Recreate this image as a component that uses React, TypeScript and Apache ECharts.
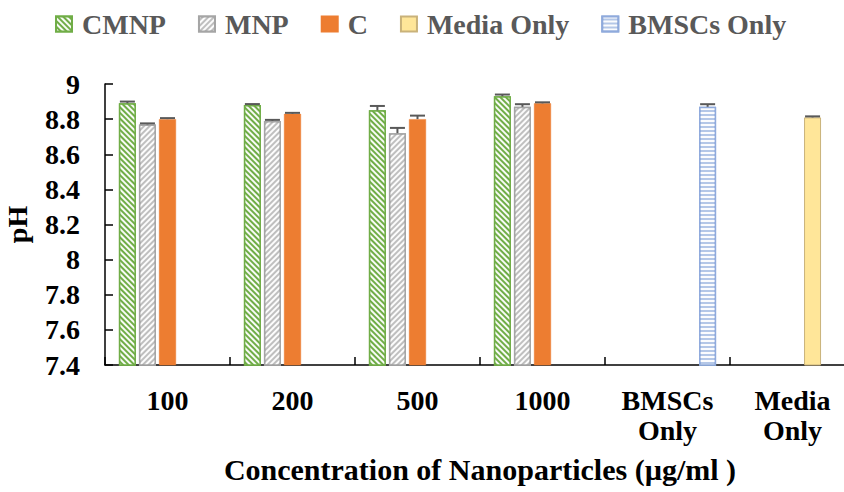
import React, { useEffect, useRef } from "react";
import * as echarts from "echarts";

const categories = ["100", "200", "500", "1000", "BMSCs\nOnly", "Media\nOnly"];
const seriesNames = ["CMNP", "MNP", "C", "Media Only", "BMSCs Only"];
const cmnp = [8.89, 8.88, 8.85, 8.93, null, null];
const mnp = [8.77, 8.79, 8.72, 8.87, null, null];
const cOnly = [8.8, 8.83, 8.8, 8.89, null, null];
const mediaOnly = [null, null, null, null, null, 8.81];
const bmscsOnly = [null, null, null, null, 8.87, null];
const cmnpErr = [0.01, 0.005, 0.025, 0.01, null, null];
const mnpErr = [0.005, 0.005, 0.03, 0.015, null, null];
const cErr = [0.005, 0.005, 0.02, 0.005, null, null];
const mediaErr = [null, null, null, null, null, 0.004];
const bmscsErr = [null, null, null, null, 0.015, null];
const yTicks = { min: 7.4, max: 9, step: 0.2 };

const FONT = "'Liberation Serif', 'Times New Roman', serif";
const BAR_W = 17;
const GAP_RATIO = 0.18;

export default function App() {
  const ref = useRef<HTMLDivElement>(null);
  useEffect(() => {
    document.body.style.margin = "0";
    if (!ref.current) return;
    const chart = echarts.init(ref.current, null, { renderer: "svg" });
    const values = [cmnp, mnp, cOnly, mediaOnly, bmscsOnly];
    const errs = [cmnpErr, mnpErr, cErr, mediaErr, bmscsErr];
    const styles: any[] = [
      {
        color: "#70AD47",
        borderColor: "#70AD47",
        borderWidth: 1.5,
        decal: { symbol: "rect", symbolSize: 1, color: "rgba(255,255,255,0.95)", dashArrayX: [1, 0], dashArrayY: [2, 2], rotation: Math.PI / 4 },
      },
      {
        color: "#BFBFBF",
        borderColor: "#A5A5A5",
        borderWidth: 1.5,
        decal: { symbol: "rect", symbolSize: 1, color: "rgba(255,255,255,0.95)", dashArrayX: [1, 0], dashArrayY: [2, 2], rotation: -Math.PI / 4 },
      },
      { color: "#ED7D31", borderColor: "#ED7D31", borderWidth: 0.5 },
      { color: "#FFE699", borderColor: "#C9B27A", borderWidth: 1 },
      {
        color: "#B4C7E7",
        borderColor: "#8FAADC",
        borderWidth: 1.5,
        decal: { symbol: "rect", symbolSize: 1, color: "rgba(255,255,255,0.95)", dashArrayX: [1, 0], dashArrayY: [2, 2], rotation: 0 },
      },
    ];
    const barSeries = seriesNames.map((name, i) => ({
      name,
      type: "bar",
      data: values[i],
      barWidth: BAR_W,
      barGap: GAP_RATIO * 100 + "%",
      itemStyle: styles[i],
      z: 2,
    }));
    const errData: any[] = [];
    errs.forEach((arr, s) => {
      arr.forEach((e, c) => {
        const v = values[s][c];
        if (e != null && v != null) errData.push([c, v, e, s]);
      });
    });
    const errSeries = {
      type: "custom",
      z: 5,
      silent: true,
      data: errData,
      renderItem: (params: any, api: any) => {
        const c = api.value(0);
        const v = api.value(1);
        const e = api.value(2);
        const s = api.value(3);
        const top = api.coord([c, v]);
        const cap = api.coord([c, v + e]);
        const gap = BAR_W * GAP_RATIO;
        const groupW = 5 * BAR_W + 4 * gap;
        const x = top[0] - groupW / 2 + s * (BAR_W + gap) + BAR_W / 2;
        const capY = Math.min(cap[1], top[1] - 1);
        const st = { stroke: "#595959", lineWidth: 2 };
        return {
          type: "group",
          children: [
            { type: "line", shape: { x1: x, y1: top[1], x2: x, y2: capY }, style: st },
            { type: "line", shape: { x1: x - 7.5, y1: capY, x2: x + 7.5, y2: capY }, style: st },
          ],
        };
      },
    };
    chart.setOption({
      animation: false,
      textStyle: { fontFamily: FONT },
      legend: {
        data: seriesNames,
        left: 55,
        top: 10,
        padding: 0,
        itemWidth: 16,
        itemHeight: 15,
        itemGap: 32,
        icon: "rect",
        textStyle: { fontFamily: FONT, fontSize: 28, fontWeight: "bold", color: "#595959", padding: [0, 0, 0, 5] },
      },
      grid: { left: 105, right: -11, top: 84, bottom: 127, containLabel: false, outerBoundsMode: "none" },
      xAxis: {
        type: "category",
        data: categories,
        name: "Concentration of Nanoparticles (µg/ml )",
        nameLocation: "middle",
        nameGap: 89,
        nameTextStyle: { fontFamily: FONT, fontSize: 30, fontWeight: "bold", color: "#000" },
        axisLine: { lineStyle: { color: "#000", width: 1.5 } },
        axisTick: { show: true, inside: true, length: 8, lineStyle: { color: "#000", width: 1.5 } },
        axisLabel: { interval: 0, margin: 20, fontFamily: FONT, fontSize: 28, fontWeight: "bold", color: "#000", lineHeight: 30 },
      },
      yAxis: {
        type: "value",
        min: yTicks.min,
        max: yTicks.max,
        interval: yTicks.step,
        name: "pH",
        nameLocation: "middle",
        nameGap: 74,
        nameRotate: 90,
        nameTextStyle: { fontFamily: FONT, fontSize: 28, fontWeight: "bold", color: "#000" },
        splitLine: { show: false },
        axisLine: { show: true, lineStyle: { color: "#000", width: 1.5 } },
        axisTick: { show: true, inside: true, length: 8, lineStyle: { color: "#000", width: 1.5 } },
        axisLabel: {
          margin: 25,
          fontFamily: FONT,
          fontSize: 28,
          fontWeight: "bold",
          color: "#000",
          formatter: (v: number) => String(Math.round(v * 10) / 10),
        },
      },
      series: [...barSeries, errSeries],
    });
    return () => chart.dispose();
  }, []);
  return <div ref={ref} style={{ width: 844, height: 492, overflow: "hidden" }} />;
}
